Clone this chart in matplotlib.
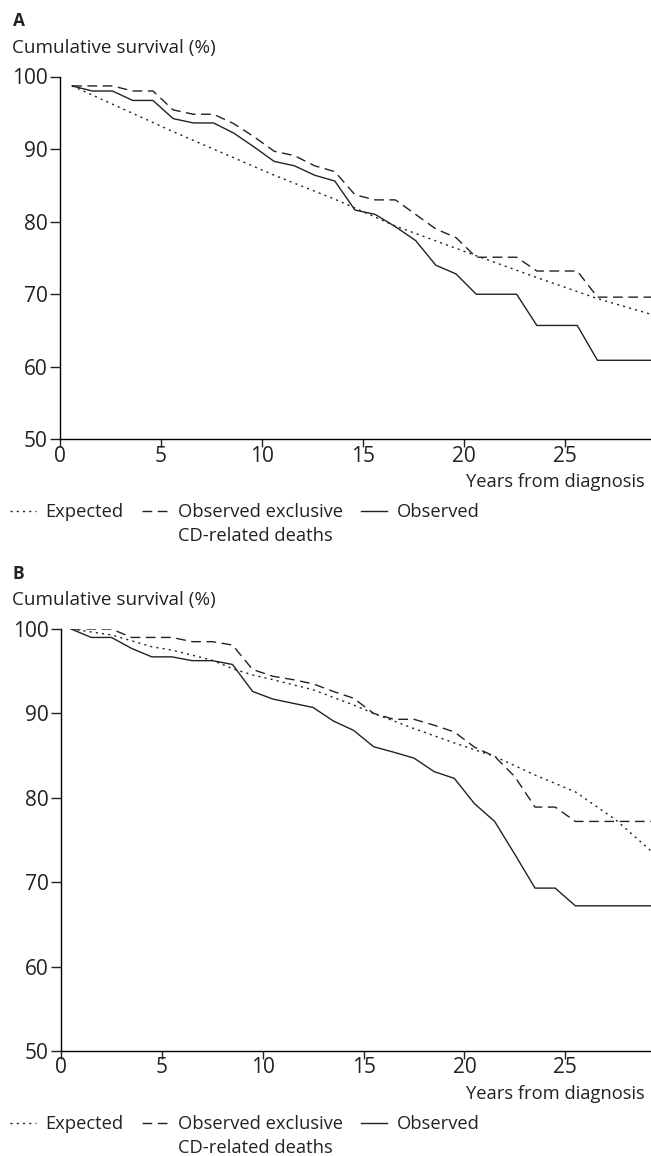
import matplotlib
matplotlib.use('Agg')
import matplotlib.pyplot as plt

plt.rcParams['font.family'] = ['Open Sans', 'DejaVu Sans']

# Panel A: cumulative survival (%) by years from diagnosis
a_obs_years = [0.6, 1.6, 2.6, 3.6, 4.6, 5.6, 6.6, 7.6, 8.6, 9.6, 10.6, 11.6, 12.6, 13.6,
               14.6, 15.6, 16.6, 17.6, 18.6, 19.6, 20.6, 22.6, 23.6, 25.6, 26.6, 29.3]
a_observed = [98.7, 98.0, 98.0, 96.7, 96.7, 94.2, 93.6, 93.6, 92.2, 90.3, 88.3, 87.7, 86.4, 85.6,
              81.6, 81.0, 79.3, 77.4, 74.0, 72.8, 70.0, 70.0, 65.7, 65.7, 60.9, 60.9]
a_excl = [98.7, 98.7, 98.7, 98.0, 98.0, 95.4, 94.8, 94.8, 93.5, 91.7, 89.7, 89.1, 87.7, 86.9,
          83.7, 83.0, 83.0, 81.0, 79.0, 77.8, 75.1, 75.1, 73.2, 73.2, 69.6, 69.6]
a_exp_years = [0.6, 5.6, 10.6, 13.6, 16.6, 20.6, 23.6, 26.6, 29.3]
a_expected = [98.7, 92.4, 86.4, 83.1, 79.4, 75.3, 72.3, 69.4, 67.2]

# Panel B
b_years = [0.5, 1.5, 2.5, 3.5, 4.5, 5.5, 6.5, 7.5, 8.5, 9.5, 10.5, 11.5, 12.5, 13.5, 14.5,
           15.5, 16.5, 17.5, 18.5, 19.5, 20.5, 21.5, 22.5, 23.5, 24.5, 25.5, 29.3]
b_observed = [100.0, 99.0, 99.0, 97.7, 96.7, 96.7, 96.25, 96.25, 95.8, 92.6, 91.7, 91.2, 90.7, 89.1,
              88.0, 86.05, 85.4, 84.7, 83.1, 82.3, 79.3, 77.2, 73.3, 69.3, 69.3, 67.2, 67.2]
b_excl = [100.0, 100.0, 100.0, 99.0, 99.0, 99.0, 98.5, 98.5, 98.1, 95.2, 94.4, 94.0, 93.5, 92.6,
          91.8, 90.0, 89.3, 89.3, 88.6, 87.8, 86.0, 84.9, 82.5, 78.9, 78.9, 77.2, 77.2]
b_exp_years = [0.5, 2.5, 4.5, 5.5, 7.5, 8.5, 9.5, 10.5, 12.5, 14.5, 15.5, 17.5, 19.5, 21.5,
               23.5, 25.5, 27.5, 29.3]
b_expected = [100.0, 99.3, 97.9, 97.5, 96.3, 95.3, 94.55, 94.0, 92.8, 91.0, 90.0, 88.2, 86.5, 84.9,
              82.7, 80.7, 77.4, 73.6]

x_ticks = [0, 5, 10, 15, 20, 25]
y_ticks = [50, 60, 70, 80, 90, 100]

W, H = 651, 1156
fig = plt.figure(figsize=(W / 100, H / 100), dpi=100)
ink = '#222222'
fs = 13.2   # body text
tfs = 15.0  # tick labels


def fx(px):
    return px / W


def fy(px):
    return 1 - px / H


def panel(letter, top, bottom, left, exp_x, exp_y, obs_x, obs_y, exc_y):
    ax = fig.add_axes([fx(left), fy(bottom), fx(W - left), (bottom - top) / H])
    l1, = ax.plot(exp_x, exp_y, color=ink, lw=1.0, linestyle=(0, (1.5, 3)))
    l2, = ax.plot(obs_x, exc_y, color=ink, lw=1.0, linestyle=(0, (7, 4)))
    l3, = ax.plot(obs_x, obs_y, color=ink, lw=1.0)
    ax.set_xlim(0, 29.25)
    ax.set_ylim(50, 100)
    ax.set_xticks(x_ticks)
    ax.set_yticks(y_ticks)
    for s in ['top', 'right']:
        ax.spines[s].set_visible(False)
    for s in ['left', 'bottom']:
        ax.spines[s].set_linewidth(1.0)
        ax.spines[s].set_color('black')
    ax.tick_params(axis='y', length=7, width=1.0, pad=2, labelsize=tfs, colors=ink)
    ax.tick_params(axis='x', length=6, width=1.0, pad=-1.5, labelsize=tfs, colors=ink)
    # texts
    fig.text(fx(13), fy(top - 55), letter, fontsize=12.5, fontweight='bold', color=ink,
             va='center', ha='left')
    fig.text(fx(12), fy(top - 29), 'Cumulative survival (%)', fontsize=fs + 0.4, color=ink,
             va='center', ha='left')
    fig.text(fx(645), fy(bottom + 43), 'Years from diagnosis', fontsize=fs, color=ink,
             va='center', ha='right')
    leg = fig.legend([l1, l2, l3], ['Expected', 'Observed exclusive', 'Observed'],
                     loc='center left', bbox_to_anchor=(fx(10), fy(bottom + 73)),
                     ncol=3, frameon=False, fontsize=fs, handlelength=1.4,
                     handletextpad=0.55, columnspacing=1.0, borderpad=0, borderaxespad=0)
    for t in leg.get_texts():
        t.set_color(ink)
    fig.text(fx(178), fy(bottom + 97), 'CD-related deaths', fontsize=fs, color=ink,
             va='center', ha='left')
    return ax


panel('A', 76.5, 439.4, 60, a_exp_years, a_expected, a_obs_years, a_observed, a_excl)
panel('B', 629, 1051, 61, b_exp_years, b_expected, b_years, b_observed, b_excl)

fig.savefig('out.png', dpi=100)
